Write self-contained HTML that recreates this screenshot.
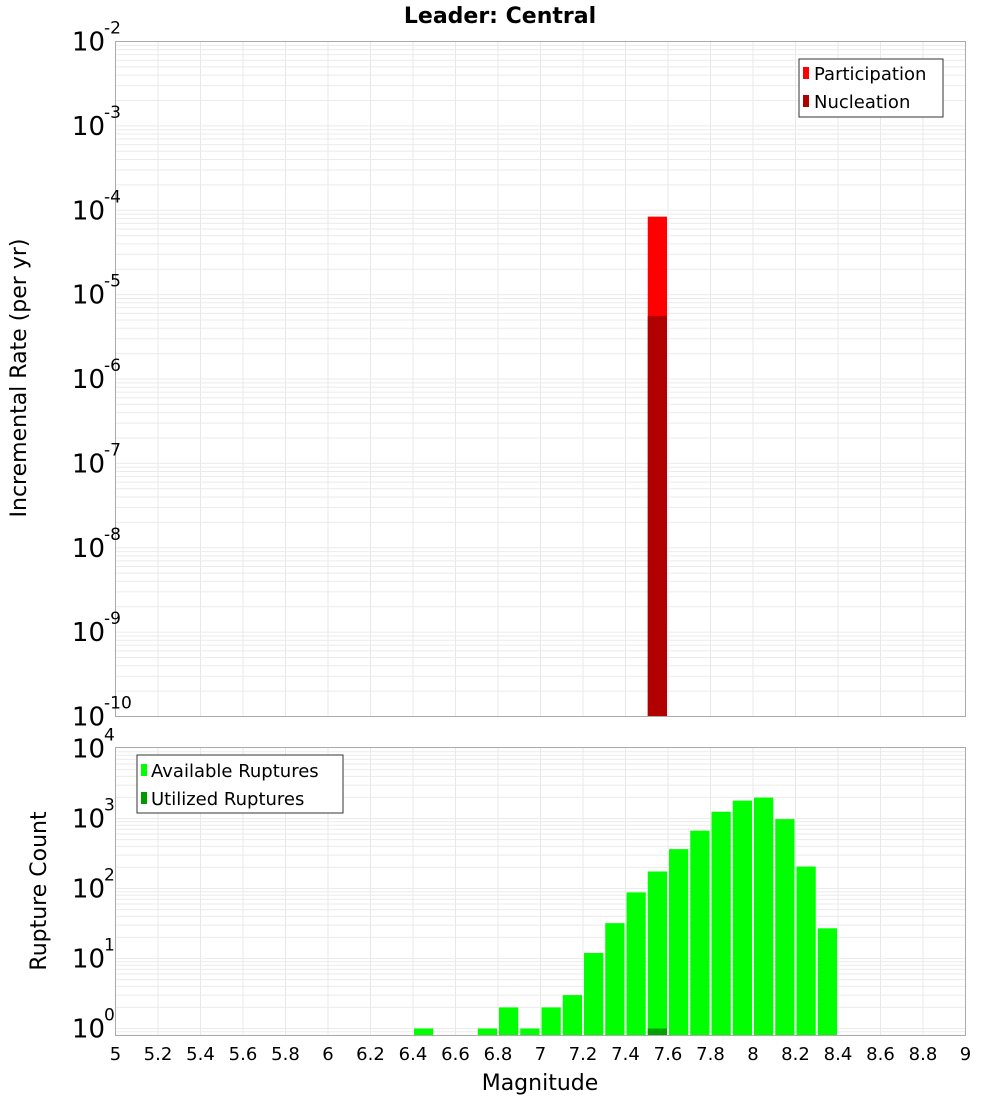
<!DOCTYPE html>
<html><head><meta charset="utf-8"><style>
body{margin:0;background:#fff}
text{font-family:"DejaVu Sans","Liberation Sans",sans-serif}
</style></head><body>
<svg id="c" width="1000" height="1100" xmlns="http://www.w3.org/2000/svg">
<text x="500" y="23" text-anchor="middle" font-size="22" font-weight="bold">Leader: Central</text>
<g id="topPlot"></g>
<g id="botPlot"></g>
<text transform="translate(26,378) rotate(-90)" text-anchor="middle" font-size="22">Incremental Rate (per yr)</text>
<text transform="translate(46,891) rotate(-90)" text-anchor="middle" font-size="22">Rupture Count</text>
<text x="540" y="1090" text-anchor="middle" font-size="22">Magnitude</text>
<g id="legends">
<g>
<rect x="799" y="59" width="144" height="58" fill="#fff" stroke="#333"/>
<rect x="803" y="67" width="6" height="12" fill="#ff0000"/>
<text x="814" y="80" font-size="18">Participation</text>
<rect x="803" y="95" width="6" height="12" fill="#b00000"/>
<text x="814" y="108" font-size="18">Nucleation</text>
</g>
<g>
<rect x="137" y="755" width="206" height="58" fill="#fff" stroke="#333"/>
<rect x="141" y="764" width="6" height="12" fill="#00ff00"/>
<text x="151" y="777" font-size="18">Available Ruptures</text>
<rect x="141" y="792" width="6" height="12" fill="#009900"/>
<text x="151" y="805" font-size="18">Utilized Ruptures</text>
</g>
</g>
</svg>
<script>
const binCenters=[6.45,6.75,6.85,6.95,7.05,7.15,7.25,7.35,7.45,7.55,7.65,7.75,7.85,7.95,8.05,8.15,8.25,8.35];
const availableCounts=[1,1,2,1,2,3,12,32,88,175,365,670,1250,1800,1990,980,206,27];
const utilizedMags=[7.55];
const utilizedCounts=[1];
const rateMags=[7.55];
const participationRates=[8.4e-5];
const nucleationRates=[5.6e-6];
const xTicks=[5,5.2,5.4,5.6,5.8,6,6.2,6.4,6.6,6.8,7,7.2,7.4,7.6,7.8,8,8.2,8.4,8.6,8.8,9];
const topExps=[-2,-3,-4,-5,-6,-7,-8,-9,-10];
const botExps=[4,3,2,1,0];

const NS="http://www.w3.org/2000/svg";
const X0=115.5,X1=965.5,XMIN=5,XMAX=9;
const xS=m=>X0+(m-XMIN)/(XMAX-XMIN)*(X1-X0);
const TT=41.5,TB=716.5,TMAX=-2,TMIN=-10;
const yT=v=>TT+(TMAX-Math.log10(v))/(TMAX-TMIN)*(TB-TT);
const BT=747.5,BB=1035.5,BMAX=4+1/70,BMIN=-0.1;
const yB=v=>BT+(BMAX-Math.log10(v))/(BMAX-BMIN)*(BB-BT);
function el(p,t,a){const e=document.createElementNS(NS,t);for(const k in a)e.setAttribute(k,a[k]);p.appendChild(e);return e;}
function grid(g,t0,b0,yf,lo,hi){
  for(const t of xTicks){const l=el(g,'line',{x1:xS(t),x2:xS(t),y1:t0,y2:b0,stroke:'#e8e8e8'});
  
  }
  for(let e=lo;e<hi;e++)for(let k=1;k<10;k++){const yy=yf(k*Math.pow(10,e));if(yy<t0||yy>b0)continue;
  const l=el(g,'line',{x1:X0,x2:X1,y1:yy,y2:yy,stroke:'#ebebeb'});
  
  }
}
const topG=document.getElementById('topPlot'),botG=document.getElementById('botPlot');
grid(topG,TT,TB,yT,-10,-2);
grid(botG,BT,BB,yB,-1,4);
const bw=0.1*(X1-X0)/4;
rateMags.forEach((m,i)=>{
  const r=el(topG,'rect',{x:xS(m)-bw/2+1,width:bw-2,y:yT(participationRates[i]),height:TB-yT(participationRates[i]),fill:'#ff0000'});
  
  
  const n=el(topG,'rect',{x:xS(m)-bw/2+1,width:bw-2,y:yT(nucleationRates[i]),height:TB-yT(nucleationRates[i]),fill:'#b00000'});
  
  
});
binCenters.forEach((m,i)=>{
  const r=el(botG,'rect',{x:xS(m)-bw/2+1,width:bw-2,y:yB(availableCounts[i]),height:BB-yB(availableCounts[i]),fill:'#00ff00'});
  
  
});
utilizedMags.forEach((m,i)=>{
  const r=el(botG,'rect',{x:xS(m)-bw/2+1,width:bw-2,y:yB(utilizedCounts[i]),height:BB-yB(utilizedCounts[i]),fill:'#00a000'});
  
  
});
for(const [g,t,b] of [[topG,TT,TB],[botG,BT,BB]]){
  const r=el(g,'rect',{x:X0,y:t,width:X1-X0,height:b-t,fill:'none',stroke:'#aaa'});
  
  
}
function ylab(g,e,yy){
  const t=el(g,'text',{x:105,y:yy+9,'text-anchor':'end','font-size':26});
  
  
  t.textContent='10';
  const s=el(g,'text',{x:104,y:yy-8,'font-size':17});
  
  
  s.textContent=String(e);
}
topExps.forEach(e=>ylab(topG,e,yT(Math.pow(10,e))));
botExps.forEach(e=>ylab(botG,e,yB(Math.pow(10,e))));
xTicks.forEach(t=>{
  const l=el(botG,'text',{x:xS(t),y:1060,'text-anchor':'middle','font-size':18});
  
  
  l.textContent=String(t);
});
document.getElementById('c').appendChild(document.getElementById('legends'));
</script>
</body></html>
